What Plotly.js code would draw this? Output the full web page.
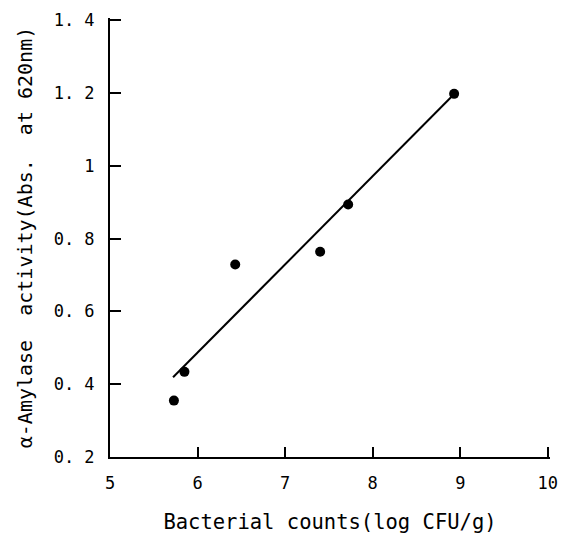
<!DOCTYPE html>
<html>
<head>
<meta charset="utf-8">
<script src="https://cdn.plot.ly/plotly-3.0.1.min.js"></script>
<style>html,body{margin:0;padding:0;background:#fff;}#chart{width:567px;height:534px;}</style>
</head>
<body>
<div id="chart"></div>
<script>
// Data points
const bacterialCounts = [5.73, 5.85, 6.43, 7.40, 7.72, 8.93];
const amylaseActivity = [0.355, 0.434, 0.729, 0.764, 0.894, 1.198];
// Trend line endpoints
const fitX = [5.72, 8.90];
const fitY = [0.419, 1.190];
// Tick labels
const xTickVals = [5, 6, 7, 8, 9, 10];
const xTickText = ["5", "6", "7", "8", "9", "10"];
const yTickVals = [0.2, 0.4, 0.6, 0.8, 1.0, 1.2, 1.4];
const yTickText = ["0. 2", "0. 4", "0. 6", "0. 8", "1", "1. 2", "1. 4"];

const fontFam = "DejaVu Sans Mono";

const traces = [
  {x: fitX, y: fitY, mode: 'lines', line: {color: '#000', width: 2}, hoverinfo: 'skip', showlegend: false},
  {x: bacterialCounts, y: amylaseActivity, mode: 'markers', marker: {color: '#000', size: 10}, showlegend: false}
];

const layout = {
  width: 567, height: 534,
  margin: {l: 110, r: 17, t: 18, b: 77},
  font: {family: fontFam, color: '#000', size: 16},
  showlegend: false,
  xaxis: {
    range: [5, 10.025], tickmode: 'array', tickvals: xTickVals, ticktext: xTickText,
    ticks: 'inside', ticklen: 10, tickwidth: 2, tickcolor: '#000', ticklabelstandoff: 10,
    showline: true, linecolor: '#000', linewidth: 2,
    showgrid: false, zeroline: false,
    tickfont: {family: fontFam, size: 17, color: '#000'},
    title: {text: 'Bacterial counts(log CFU/g)', font: {family: fontFam, size: 20.5, color: '#000'}, standoff: 22}
  },
  yaxis: {
    range: [0.2, 1.4065], tickmode: 'array', tickvals: yTickVals, ticktext: yTickText,
    ticks: 'inside', ticklen: 11, tickwidth: 2, tickcolor: '#000', ticklabelstandoff: 10,
    showline: true, linecolor: '#000', linewidth: 2,
    showgrid: false, zeroline: false,
    tickfont: {family: fontFam, size: 17, color: '#000'},
    title: {text: 'α-Amylase  activity(Abs.  at 620nm)', font: {family: fontFam, size: 20, color: '#000'}, standoff: 16}
  }
};

Plotly.newPlot('chart', traces, layout, {displayModeBar: false});
</script>
</body>
</html>
